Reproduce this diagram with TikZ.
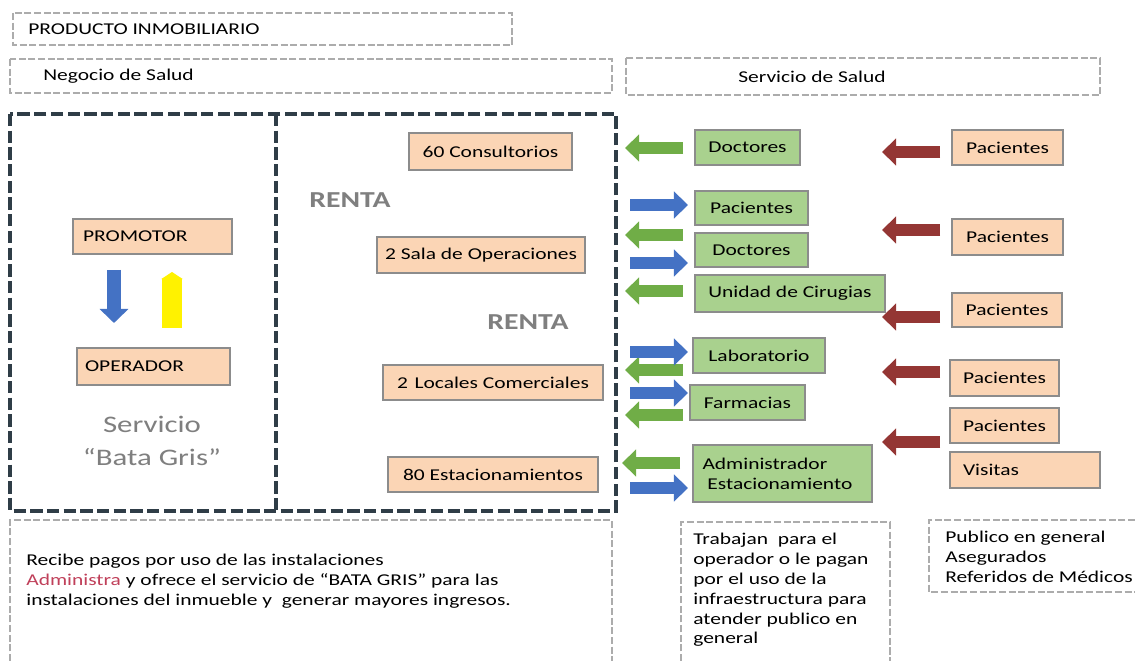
\documentclass[tikz,border=0pt]{standalone}
\usepackage{fontspec}
\setmainfont[FakeStretch=1.3]{Carlito}
\usetikzlibrary{arrows.meta}

\definecolor{peachfill}{HTML}{FBD5B5}
\definecolor{greenfill}{HTML}{A9D18E}
\definecolor{boxline}{HTML}{8C8C8C}
\definecolor{framedark}{HTML}{2F3D47}
\definecolor{greenarrow}{HTML}{70AD47}
\definecolor{bluearrow}{HTML}{4472C4}
\definecolor{redarrow}{HTML}{943634}
\definecolor{rentagray}{HTML}{7F7F7F}
\definecolor{admcolor}{HTML}{C0405A}

\newcommand{\diagfont}{\fontsize{9.4}{11.3}\selectfont}

\tikzset{
  frame/.style={draw=gray!65, line width=0.8pt, dash pattern=on 4pt off 1.5pt},
  bigframe/.style={draw=framedark, line width=2.2pt, dash pattern=on 7pt off 2.5pt},
  peachbox/.style={draw=boxline, fill=peachfill, line width=1pt, inner sep=0pt, font=\diagfont},
  greenbox/.style={draw=boxline, fill=greenfill, line width=1pt, inner sep=0pt, font=\diagfont},
  sz/.style 2 args={minimum width=#1*0.02cm, minimum height=#2*0.02cm},
  txt/.style={inner sep=0pt, font=\diagfont},
  garrow/.style={greenarrow, line width=7pt, -{Triangle[length=8pt, width=15pt]}},
  barrow/.style={bluearrow, line width=7pt, -{Triangle[length=8pt, width=15pt]}},
  rarrow/.style={redarrow, line width=7pt, -{Triangle[length=8pt, width=15pt]}}
}

\begin{document}
\begin{tikzpicture}[x=0.02cm, y=-0.02cm]

\useasboundingbox[fill=white] (0,0) rectangle (1135,661);

% dashed frames
\draw[frame] (13,13) rectangle (512,45);
\draw[frame] (10,59) rectangle (612,93);
\draw[frame] (626,58) rectangle (1100,95);
\draw[frame] (10,661) -- (10,520) -- (612,520) -- (612,661);
\draw[frame] (681,661) -- (681,522) -- (890,522) -- (890,661);
\draw[frame] (1135,520) -- (929,520) -- (929,592) -- (1135,592);
\draw[bigframe] (10,114) rectangle (616,511);
\draw[bigframe] (276,114) -- (276,511);

\node[txt, anchor=west] (producto) at (28,29) {PRODUCTO INMOBILIARIO};
\node[txt, anchor=west] (negocio) at (43,76) {Negocio de Salud};
\node[txt] (servicio) at (812,77) {Servicio de Salud};

% promotor / operador
\node[peachbox, sz={159}{35}, text width=2.78cm, align=left] (promotor) at (152.5,236.5) {PROMOTOR};
\node[peachbox, sz={153}{37}, text width=2.74cm, align=left] (operador) at (153.5,366.5) {OPERADOR};
\draw[bluearrow, line width=8.5pt, -{Triangle[length=8pt, width=16pt]}] (114,270) -- (114,323);
\draw[yellow, line width=11pt, -{Triangle[length=4pt, width=12pt]}] (172,328) -- (172,272);
\node[txt, align=center, font=\fontsize{13.5}{18.7}\selectfont, text=rentagray] (batagris) at (152,441) {Servicio\\“Bata Gris”};

% renta
\node[peachbox, sz={163}{37}] (consult) at (490.5,151.5) {60 Consultorios};
\node[peachbox, sz={208}{36}] (sala) at (481,255) {2 Sala de Operaciones};
\node[peachbox, sz={220}{35}] (locales) at (493,382.5) {2\hspace{0.4em}Locales Comerciales};
\node[peachbox, sz={210}{35}] (estac) at (493,474.5) {80 Estacionamientos};
\node[txt, font=\fontsize{13}{15}\selectfont\bfseries, text=rentagray] (renta1) at (350,200) {RENTA};
\node[txt, font=\fontsize{13}{15}\selectfont\bfseries, text=rentagray] (renta2) at (528,322) {RENTA};

% servicio de salud
\node[greenbox, sz={105}{35}] (doc1) at (747.5,147.5) {Doctores};
\node[greenbox, sz={113}{34}] (pacg) at (751.5,208) {Pacientes};
\node[greenbox, sz={113}{34}] (doc2) at (751.5,250) {Doctores};
\node[greenbox, sz={190}{37}] (unidad) at (790,293.5) {Unidad de Cirugias};
\node[greenbox, sz={132}{35}] (lab) at (759,355.5) {Laboratorio};
\node[greenbox, sz={115}{35}] (farm) at (747.5,402.5) {Farmacias};
\node[greenbox, sz={179}{57}, text width=3.2cm, align=left] (admin) at (782.5,473.5) {Administrador\\\hspace*{0.3em}Estacionamiento};

\foreach \y in {148,235,291,370,415}
  \draw[garrow] (683,\y) -- (625,\y);
\draw[garrow] (680,463) -- (622,463);
\foreach \y in {205,263,352,393,488}
  \draw[barrow] (630,\y) -- (688,\y);
\foreach \y in {152,230,317,372,442}
  \draw[rarrow] (940,\y) -- (882,\y);

\node[peachbox, sz={111}{35}] (pac1) at (1007.5,147.5) {Pacientes};
\node[peachbox, sz={111}{36}] (pac2) at (1007.5,237) {Pacientes};
\node[peachbox, sz={110}{34}] (pac3) at (1007,310) {Pacientes};
\node[peachbox, sz={109}{36}] (pac4) at (1004.5,378) {Pacientes};
\node[peachbox, sz={109}{35}] (pac5) at (1004.5,425.5) {Pacientes};
\node[peachbox, sz={150}{36}, text width=2.48cm, align=left] (visitas) at (1025,470) {Visitas};

% notas
\node[txt, anchor=west, align=left] (recibe) at (26,581) {Recibe pagos por uso de las instalaciones\\\textcolor{admcolor}{Administra} y ofrece el servicio de “BATA GRIS” para las\\instalaciones del inmueble y\ \ generar mayores ingresos.};
\node[txt, anchor=west, align=left] (trabajan) at (693,590) {Trabajan\ \ para el\\operador o le pagan\\por el uso de la\\infraestructura para\\atender publico en\\general};
\node[txt, anchor=west, align=left] (publico) at (945,557) {Publico en general\\Asegurados\\Referidos de Médicos};

\end{tikzpicture}
\end{document}
